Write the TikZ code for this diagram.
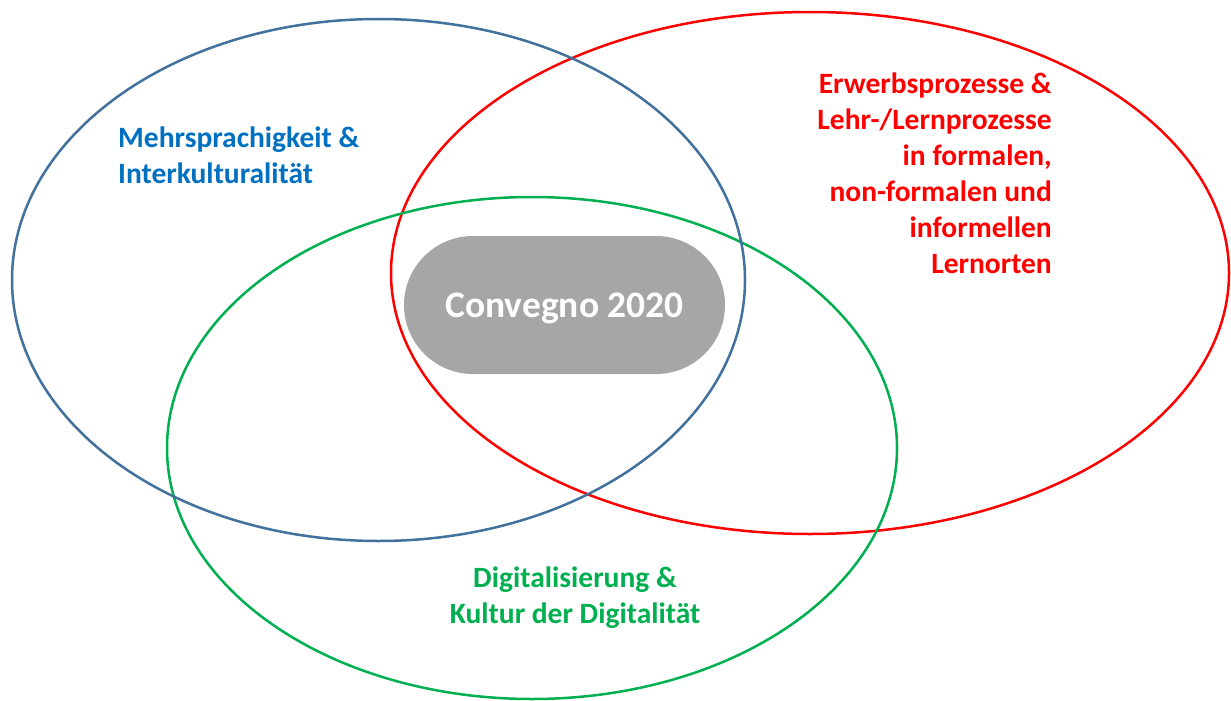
\documentclass[tikz,border=0pt]{standalone}
\usepackage{fontspec}
\setmainfont{Carlito}
\definecolor{ringblue}{HTML}{41719C}
\definecolor{textblue}{HTML}{0070C0}
\definecolor{ringred}{HTML}{FF0000}
\definecolor{ringgreen}{HTML}{00B050}
\definecolor{boxgray}{HTML}{A6A6A6}
\tikzset{
  ring/.style={line width=2.5pt},
  lbl/.style={inner sep=0pt, font=\bfseries\fontsize{29.5}{36}\selectfont},
}
\begin{document}
\begin{tikzpicture}[x=1pt,y=-1pt]
\useasboundingbox[fill=white] (0,0) rectangle (1231,701);
\draw[ring, ringred] (810,273) ellipse [x radius=419, y radius=261];
\draw[ring, ringgreen] (532,448) ellipse [x radius=365, y radius=251];
\draw[ring, ringblue] (378.5,280) ellipse [x radius=366.5, y radius=261];
\node[fill=boxgray, minimum width=321pt, minimum height=138pt, rounded corners=69pt, inner sep=0pt] (core) at (564.5,305) {};
\node[anchor=base, inner sep=0pt, text=white, font=\bfseries\fontsize{37.5}{45}\selectfont] (title) at (564.5,317) {Convegno 2020};
\node[lbl, text=textblue, anchor=base west, align=left] (multi) at (118,183) {Mehrsprachigkeit \&\\Interkulturalität};
\node[lbl, text=ringred, anchor=base east, align=right] (learn) at (1052,273) {Erwerbsprozesse \&\\Lehr-/Lernprozesse\\in formalen,\\non-formalen und\\informellen\\Lernorten};
\node[lbl, text=ringgreen, anchor=base, align=center] (digi) at (575,623) {Digitalisierung \&\\Kultur der Digitalität};
\end{tikzpicture}
\end{document}
